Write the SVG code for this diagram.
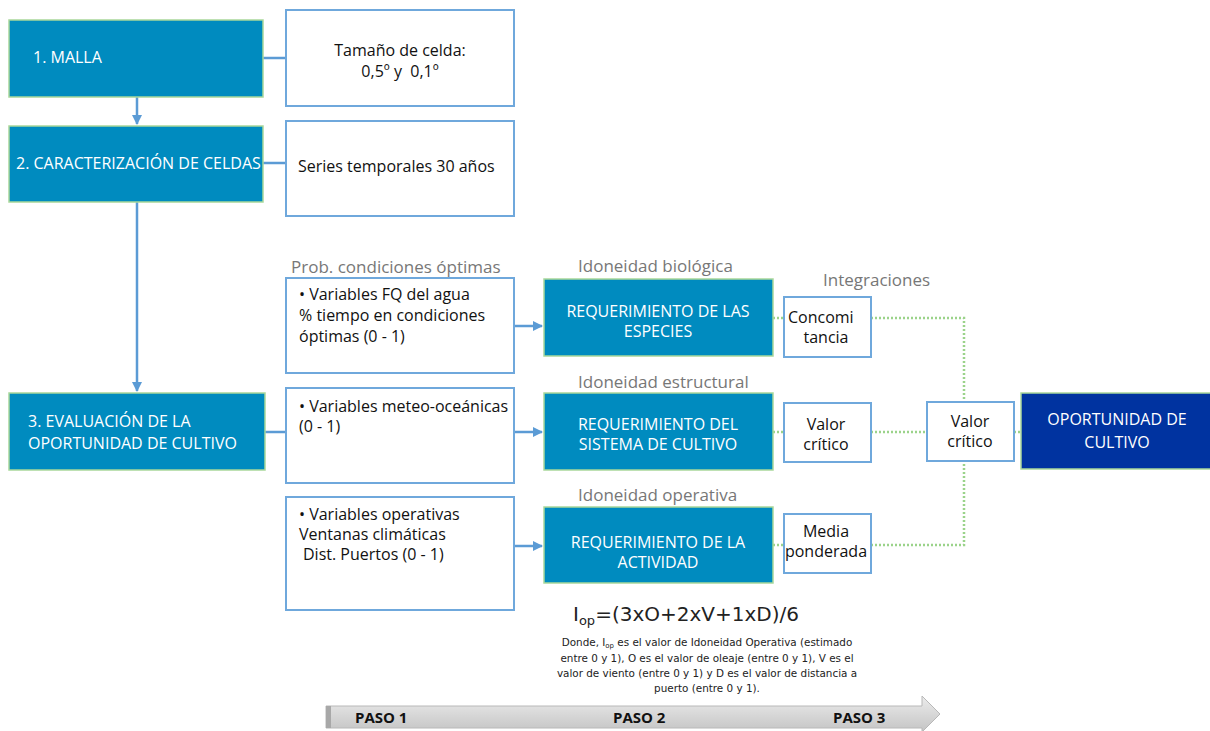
<svg xmlns="http://www.w3.org/2000/svg" width="1210" height="731" viewBox="0 0 1210 731">
<style>
.teal{fill:#008bbf;stroke:#a9d89a;stroke-width:1.5}
.dark{fill:#0033a0;stroke:#a9d89a;stroke-width:1.5}
.wbox{fill:#fff;stroke:#6fa8dc;stroke-width:2}
.wt{font-family:"Open Sans","DejaVu Sans",sans-serif;font-size:16px;fill:#fff}
.bt{font-family:"Open Sans","DejaVu Sans",sans-serif;font-size:16px;fill:#111}
.gt{font-family:"Open Sans","DejaVu Sans",sans-serif;font-size:17px;fill:#777}
.c{text-anchor:middle}
.conn{stroke:#5b9bd5;stroke-width:2.5;fill:none}
.dot{stroke:#9bd38a;stroke-width:2.5;stroke-dasharray:2 2;fill:none}
.desc{font-family:"DejaVu Sans",Verdana,sans-serif;font-size:10.4px;fill:#222;text-anchor:middle}
.paso{font-family:"Open Sans","DejaVu Sans",sans-serif;font-size:15px;font-weight:bold;fill:#111}
</style>
<defs>
<marker id="ah" viewBox="0 0 10 10" refX="9" refY="5" markerWidth="4" markerHeight="4" orient="auto" markerUnits="strokeWidth">
<path d="M0,0 L10,5 L0,10 z" fill="#5b9bd5"/>
</marker>
<linearGradient id="gr" x1="0" y1="0" x2="0" y2="1">
<stop offset="0" stop-color="#ececec"/>
<stop offset="1" stop-color="#c4c4c4"/>
</linearGradient>
</defs>

<g id="connectors">
<line class="conn" x1="137" y1="97" x2="137" y2="124" marker-end="url(#ah)"/>
<line class="conn" x1="137" y1="202" x2="137" y2="391" marker-end="url(#ah)"/>
<line class="conn" x1="263" y1="58" x2="286" y2="58"/>
<line class="conn" x1="263" y1="163" x2="286" y2="163"/>
<line class="conn" x1="265" y1="432" x2="286" y2="432"/>
<line class="conn" x1="514" y1="326" x2="542" y2="326" marker-end="url(#ah)"/>
<line class="conn" x1="514" y1="432" x2="542" y2="432" marker-end="url(#ah)"/>
<line class="conn" x1="514" y1="546" x2="542" y2="546" marker-end="url(#ah)"/>
<line class="dot" x1="773" y1="318" x2="784" y2="318"/>
<line class="dot" x1="773" y1="432" x2="784" y2="432"/>
<line class="dot" x1="773" y1="545" x2="784" y2="545"/>
<polyline class="dot" points="871,318 964,318 964,402"/>
<line class="dot" x1="871" y1="432" x2="927" y2="432"/>
<polyline class="dot" points="871,545 964,545 964,461"/>
<line class="dot" x1="1014" y1="432" x2="1021" y2="432"/>
</g>

<g id="n-malla"><rect class="teal" x="9" y="20" width="254" height="77"/><text class="wt" x="33" y="63">1. MALLA</text></g>
<g id="n-tamano"><rect class="wbox" x="286" y="10" width="228" height="96"/><text class="bt c" x="400" y="56">Tamaño de celda:</text><text class="bt c" x="400" y="77">0,5º y&#160; 0,1º</text></g>
<g id="n-caract"><rect class="teal" x="9" y="126" width="254" height="76"/><text class="wt" x="16" y="169" font-size="15.8">2. CARACTERIZACIÓN DE CELDAS</text></g>
<g id="n-series"><rect class="wbox" x="286" y="121" width="228" height="95"/><text class="bt" x="298" y="172">Series temporales 30 años</text></g>
<g id="n-eval"><rect class="teal" x="9" y="393" width="256" height="77"/><text class="wt" x="28" y="427">3. EVALUACIÓN DE LA</text><text class="wt" x="28" y="449">OPORTUNIDAD DE CULTIVO</text></g>

<text class="gt" x="291" y="273">Prob. condiciones óptimas</text>
<g id="n-fq"><rect class="wbox" x="286" y="278" width="228" height="95"/><text class="bt" x="299" y="300">• Variables FQ del agua</text><text class="bt" x="299" y="321">% tiempo en condiciones</text><text class="bt" x="299" y="342">óptimas (0 - 1)</text></g>
<g id="n-meteo"><rect class="wbox" x="286" y="388" width="228" height="95"/><text class="bt" x="299" y="412">• Variables meteo-oceánicas</text><text class="bt" x="299" y="432">(0 - 1)</text></g>
<g id="n-oper"><rect class="wbox" x="286" y="497" width="228" height="113"/><text class="bt" x="299" y="520">• Variables operativas</text><text class="bt" x="299" y="540">Ventanas climáticas</text><text class="bt" x="303" y="560">Dist. Puertos (0 - 1)</text></g>

<text class="gt" x="578" y="272">Idoneidad biológica</text>
<g id="n-req1"><rect class="teal" x="544" y="279" width="229" height="77"/><text class="wt c" x="658" y="317">REQUERIMIENTO DE LAS</text><text class="wt c" x="658" y="337">ESPECIES</text></g>
<text class="gt" x="578" y="388">Idoneidad estructural</text>
<g id="n-req2"><rect class="teal" x="544" y="393" width="229" height="77"/><text class="wt c" x="658" y="430">REQUERIMIENTO DEL</text><text class="wt c" x="658" y="450">SISTEMA DE CULTIVO</text></g>
<text class="gt" x="578" y="501">Idoneidad operativa</text>
<g id="n-req3"><rect class="teal" x="544" y="507" width="229" height="76"/><text class="wt c" x="658" y="548">REQUERIMIENTO DE LA</text><text class="wt c" x="658" y="568">ACTIVIDAD</text></g>

<text class="gt" x="823" y="286">Integraciones</text>
<g id="n-concom"><rect class="wbox" x="784" y="297" width="87" height="60"/><text class="bt" x="788" y="323">Concomi</text><text class="bt c" x="826" y="343">tancia</text></g>
<g id="n-valor1"><rect class="wbox" x="784" y="403" width="87" height="59"/><text class="bt c" x="826" y="430">Valor</text><text class="bt c" x="826" y="450">crítico</text></g>
<g id="n-media"><rect class="wbox" x="784" y="514" width="87" height="59"/><text class="bt c" x="826" y="537">Media</text><text class="bt c" x="826" y="557">ponderada</text></g>
<g id="n-valor2"><rect class="wbox" x="927" y="402" width="87" height="59"/><text class="bt c" x="970" y="427">Valor</text><text class="bt c" x="970" y="447">crítico</text></g>
<g id="n-oport"><rect class="dark" x="1021" y="393" width="192" height="76"/><text class="wt c" x="1117" y="425">OPORTUNIDAD DE</text><text class="wt c" x="1117" y="448">CULTIVO</text></g>

<g id="formula">
<text font-family="DejaVu Sans,Verdana,sans-serif" font-size="20" fill="#222" x="573" y="621">I<tspan font-size="13" dy="4">op</tspan><tspan dy="-4">=(3xO+2xV+1xD)/6</tspan></text>
<text class="desc" x="707" y="646">Donde, I<tspan font-size="7" dy="2">op</tspan><tspan dy="-2"> es el valor de Idoneidad Operativa (estimado</tspan></text>
<text class="desc" x="707" y="662">entre 0 y 1), O es el valor de oleaje (entre 0 y 1), V es el</text>
<text class="desc" x="707" y="677">valor de viento (entre 0 y 1) y D es el valor de distancia a</text>
<text class="desc" x="707" y="692">puerto (entre 0 y 1).</text>
</g>

<g id="pasos">
<path d="M326,706 L922,706 L922,696 L940,714 L922,732 L922,728 L326,728 Z" fill="url(#gr)" stroke="#b8b8b8" stroke-width="1"/>
<rect x="326" y="706" width="5" height="22" fill="#a8a8a8"/>
<text class="paso" x="355" y="723">PASO 1</text>
<text class="paso" x="613" y="723">PASO 2</text>
<text class="paso" x="833" y="723">PASO 3</text>
</g>
</svg>
